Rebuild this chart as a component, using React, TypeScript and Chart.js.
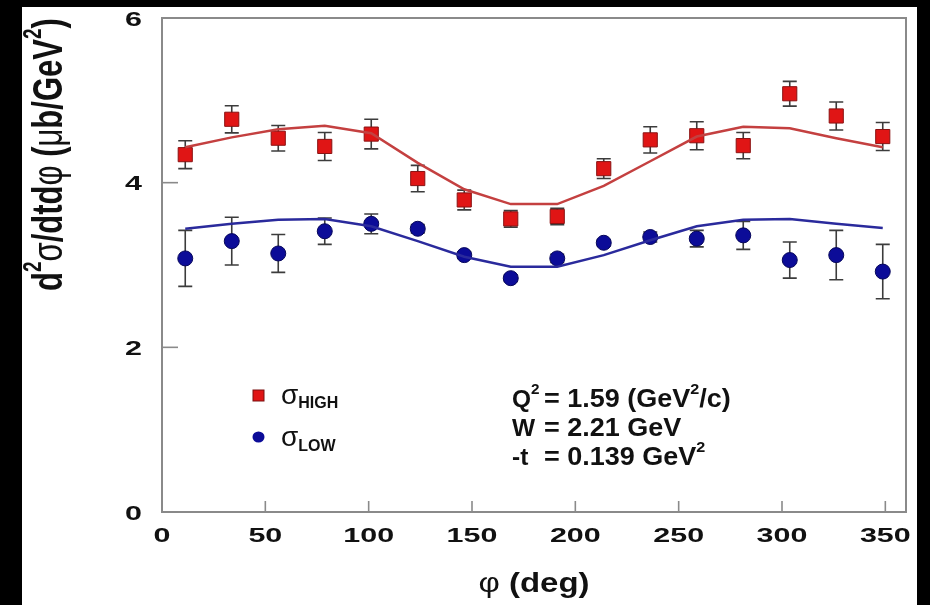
import { useEffect, useRef } from "react";
import { Chart, registerables } from "chart.js";

Chart.register(...registerables);

// ---- data ----
const phiDeg = [11.25, 33.75, 56.25, 78.75, 101.25, 123.75, 146.25, 168.75, 191.25, 213.75, 236.25, 258.75, 281.25, 303.75, 326.25, 348.75];
const highValues = [4.34, 4.77, 4.54, 4.44, 4.59, 4.05, 3.79, 3.56, 3.59, 4.17, 4.52, 4.57, 4.45, 5.08, 4.81, 4.56];
const highErrors = [0.17, 0.165, 0.155, 0.17, 0.18, 0.16, 0.12, 0.1, 0.1, 0.12, 0.16, 0.17, 0.16, 0.15, 0.17, 0.17];
const lowValues = [3.08, 3.29, 3.14, 3.41, 3.5, 3.44, 3.12, 2.84, 3.08, 3.27, 3.34, 3.32, 3.36, 3.06, 3.12, 2.92];
const lowErrors = [0.34, 0.29, 0.23, 0.16, 0.12, 0.05, 0.04, 0.04, 0.05, 0.04, 0.06, 0.1, 0.17, 0.22, 0.3, 0.33];
const highFit = [4.43, 4.55, 4.65, 4.69, 4.6, 4.24, 3.92, 3.74, 3.74, 3.96, 4.26, 4.56, 4.68, 4.66, 4.54, 4.43];
const lowFit = [3.44, 3.5, 3.55, 3.56, 3.47, 3.29, 3.1, 2.98, 2.98, 3.12, 3.3, 3.47, 3.55, 3.56, 3.5, 3.45];
const xTicks = [0, 50, 100, 150, 200, 250, 300, 350];
const yTicks = [0, 2, 4, 6];
const xTickLabels = ["0", "50", "100", "150", "200", "250", "300", "350"];
const yTickLabels = ["0", "2", "4", "6"];
const legendHigh = { sym: "σ", sub: "HIGH" };
const legendLow = { sym: "σ", sub: "LOW" };
const kinematics = [
  { name: "Q", nameSup: "2", rest: [["= 1.59 (GeV", ""], ["2", "sup"], ["/c)", ""]] },
  { name: "W", nameSup: "", rest: [["= 2.21 GeV", ""]] },
  { name: "-t", nameSup: "", rest: [["= 0.139 GeV", ""], ["2", "sup"]] },
];

const FONT = "'Liberation Sans', Arial, Helvetica, sans-serif";
const RED = "#e01515";
const BLUE = "#0c0c98";

type Seg = { t: string; font: string; dy?: number };

function drawSegs(ctx: CanvasRenderingContext2D, segs: Seg[], x: number, y: number, sx: number, sy: number, align: "left" | "center") {
  ctx.save();
  ctx.translate(x, y);
  ctx.scale(sx, sy);
  ctx.textBaseline = "middle";
  ctx.textAlign = "left";
  let total = 0;
  for (const s of segs) {
    ctx.font = s.font;
    total += ctx.measureText(s.t).width;
  }
  let cx = align === "center" ? -total / 2 : 0;
  for (const s of segs) {
    ctx.font = s.font;
    ctx.fillText(s.t, cx, s.dy || 0);
    cx += ctx.measureText(s.t).width;
  }
  ctx.restore();
}

const errorBarPlugin = {
  id: "errorBars",
  beforeDatasetDraw(chart: any, args: any) {
    const ds = chart.data.datasets[args.index];
    if (!ds.errors) return;
    const ctx = chart.ctx;
    const xs = chart.scales.x;
    const ys = chart.scales.y;
    ctx.save();
    ctx.strokeStyle = "#3c3c3c";
    ctx.lineWidth = 1.6;
    ds.data.forEach((p: any, i: number) => {
      const e = ds.errors[i];
      const px = xs.getPixelForValue(p.x);
      const top = ys.getPixelForValue(p.y + e);
      const bot = ys.getPixelForValue(p.y - e);
      ctx.beginPath();
      ctx.moveTo(px, top);
      ctx.lineTo(px, bot);
      ctx.moveTo(px - 7, top);
      ctx.lineTo(px + 7, top);
      ctx.moveTo(px - 7, bot);
      ctx.lineTo(px + 7, bot);
      ctx.stroke();
    });
    ctx.restore();
  },
};

const decorPlugin = {
  id: "decor",
  afterDraw(chart: any) {
    const ctx: CanvasRenderingContext2D = chart.ctx;
    const a = chart.chartArea;
    const xs = chart.scales.x;
    const ys = chart.scales.y;
    ctx.save();
    // frame
    ctx.strokeStyle = "#8a8a8a";
    ctx.lineWidth = 2;
    ctx.strokeRect(a.left, a.top, a.right - a.left, a.bottom - a.top);
    // tick marks
    ctx.lineWidth = 1.6;
    xTicks.forEach((v) => {
      const px = xs.getPixelForValue(v);
      ctx.beginPath();
      ctx.moveTo(px, a.bottom);
      ctx.lineTo(px, a.bottom - 11);
      ctx.stroke();
    });
    yTicks.forEach((v) => {
      const py = ys.getPixelForValue(v);
      ctx.beginPath();
      ctx.moveTo(a.left, py);
      ctx.lineTo(a.left + 16, py);
      ctx.stroke();
    });
    // tick labels
    ctx.fillStyle = "#111";
    const tickFont = `bold 21px ${FONT}`;
    const tsx = 1.45;
    xTicks.forEach((v, i) => {
      drawSegs(ctx, [{ t: xTickLabels[i], font: tickFont }], xs.getPixelForValue(v), a.bottom + 24, tsx, 1, "center");
    });
    yTicks.forEach((v, i) => {
      ctx.save();
      ctx.font = tickFont;
      const w = ctx.measureText(yTickLabels[i]).width * tsx;
      ctx.restore();
      drawSegs(ctx, [{ t: yTickLabels[i], font: tickFont }], a.left - 20 - w, ys.getPixelForValue(v) + 2, tsx, 1, "left");
    });
    // y title (rotated)
    const B = `bold 31px ${FONT}`;
    const N = `31px ${FONT}`;
    const S = `bold 19px ${FONT}`;
    ctx.save();
    ctx.translate(28, 284);
    ctx.rotate(-Math.PI / 2);
    drawSegs(
      ctx,
      [
        { t: "d", font: B },
        { t: "2", font: S, dy: -12 },
        { t: "σ", font: N },
        { t: "/dtd", font: B },
        { t: "φ", font: N },
        { t: " (", font: B },
        { t: "μ", font: N },
        { t: "b/GeV", font: B },
        { t: "2", font: S, dy: -12 },
        { t: ")", font: B },
      ],
      0,
      0,
      1,
      1.35,
      "left"
    );
    ctx.restore();
    // x title
    drawSegs(
      ctx,
      [
        { t: "φ", font: `27px ${FONT}` },
        { t: " (deg)", font: `bold 27px ${FONT}` },
      ],
      (a.left + a.right) / 2,
      578,
      1.22,
      1,
      "center"
    );
    // legend
    ctx.fillStyle = RED;
    ctx.strokeStyle = "#7a1010";
    ctx.lineWidth = 1;
    ctx.fillRect(231, 383, 11, 11);
    ctx.strokeRect(231, 383, 11, 11);
    ctx.fillStyle = BLUE;
    ctx.beginPath();
    ctx.ellipse(236.5, 430, 6, 5.5, 0, 0, Math.PI * 2);
    ctx.fill();
    ctx.fillStyle = "#111";
    drawSegs(ctx, [{ t: legendHigh.sym, font: `28px ${FONT}` }, { t: legendHigh.sub, font: `bold 16px ${FONT}`, dy: 8 }], 259, 389, 1, 1, "left");
    drawSegs(ctx, [{ t: legendLow.sym, font: `28px ${FONT}` }, { t: legendLow.sub, font: `bold 16px ${FONT}`, dy: 9 }], 259, 431, 1, 1, "left");
    // kinematics text
    const K = `bold 25px ${FONT}`;
    const KN = `bold 24px ${FONT}`;
    const KS = `bold 15px ${FONT}`;
    kinematics.forEach((k, i) => {
      const y = 393 + i * 29;
      const nameSegs: Seg[] = [{ t: k.name, font: KN }];
      if (k.nameSup) nameSegs.push({ t: k.nameSup, font: KS, dy: -10 });
      drawSegs(ctx, nameSegs, 490, y, 1.02, 1, "left");
      const restSegs: Seg[] = k.rest.map(([t, kind]) => (kind === "sup" ? { t, font: KS, dy: -10 } : { t, font: K }));
      drawSegs(ctx, restSegs, 522, y, 1.08, 1, "left");
    });
    ctx.restore();
  },
};

export default function App() {
  const ref = useRef<HTMLCanvasElement | null>(null);
  useEffect(() => {
    document.body.style.margin = "0";
    document.body.style.background = "#000";
    const canvas = ref.current;
    if (!canvas) return;
    const chart = new Chart(canvas, {
      type: "scatter",
      data: {
        datasets: [
          {
            type: "line",
            label: "fit high",
            data: phiDeg.map((x, i) => ({ x, y: highFit[i] })),
            borderColor: "#c44040",
            borderWidth: 2.5,
            pointRadius: 0,
            tension: 0,
            fill: false,
          } as any,
          {
            type: "line",
            label: "fit low",
            data: phiDeg.map((x, i) => ({ x, y: lowFit[i] })),
            borderColor: "#2a2a9c",
            borderWidth: 2.5,
            pointRadius: 0,
            tension: 0,
            fill: false,
          } as any,
          {
            label: "σHIGH",
            data: phiDeg.map((x, i) => ({ x, y: highValues[i] })),
            errors: highErrors,
            pointStyle: "rect",
            pointRadius: 10,
            backgroundColor: RED,
            borderColor: "#8a1212",
            borderWidth: 1,
          } as any,
          {
            label: "σLOW",
            data: phiDeg.map((x, i) => ({ x, y: lowValues[i] })),
            errors: lowErrors,
            pointStyle: "circle",
            pointRadius: 7.5,
            backgroundColor: BLUE,
            borderColor: "#06065a",
            borderWidth: 1,
          } as any,
        ],
      },
      options: {
        responsive: false,
        animation: false,
        layout: { padding: { top: 7, right: 10, left: 0, bottom: 0 } },
        plugins: { legend: { display: false }, tooltip: { enabled: false } },
        scales: {
          x: {
            type: "linear",
            min: 0,
            max: 360,
            ticks: { display: false },
            grid: { display: false },
            border: { display: false },
            afterFit: (s: any) => {
              s.height = 93;
            },
          },
          y: {
            type: "linear",
            min: 0,
            max: 6,
            ticks: { display: false },
            grid: { display: false },
            border: { display: false },
            afterFit: (s: any) => {
              s.width = 140;
            },
          },
        },
      },
      plugins: [errorBarPlugin, decorPlugin],
    });
    return () => chart.destroy();
  }, []);
  return (
    <div style={{ position: "relative", width: 930, height: 605, background: "#000", overflow: "hidden" }}>
      <div style={{ position: "absolute", left: 22, top: 7, width: 895, height: 598, background: "#fff" }}>
        <canvas ref={ref} width={895} height={598} style={{ display: "block" }} />
      </div>
    </div>
  );
}
